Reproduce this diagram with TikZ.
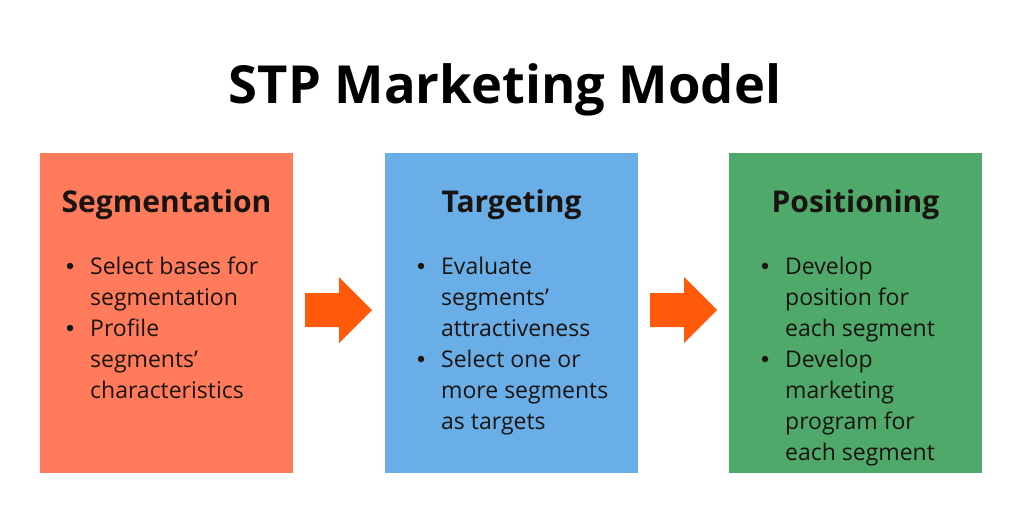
\documentclass[tikz,border=0pt]{standalone}
\usepackage{fontspec}
\setmainfont{Open Sans}
\usepackage{xcolor}
\usetikzlibrary{positioning}
\definecolor{segcol}{HTML}{FF7B5C}
\definecolor{tarcol}{HTML}{6AAEE8}
\definecolor{poscol}{HTML}{4EA96B}
\definecolor{arrcol}{HTML}{FF5A0A}
\definecolor{txtcol}{HTML}{1A1410}

\begin{document}
\begin{tikzpicture}[x=1pt, y=-1pt,
box/.style = {inner sep=0pt, outer sep=0pt, minimum width=253pt,
            minimum height=320pt, anchor=north west},
head/.style = {anchor=base, font=\fontsize{30}{34}\selectfont\bfseries, text=txtcol},
item/.style = {anchor=north west, align=left, inner sep=0pt,
            font=\fontsize{23}{31}\selectfont, text=txtcol},
dot/.style = {circle, fill=txtcol, minimum size=#1,
            inner sep=0pt, outer sep=0pt},
dot/.default = 6.5pt
                ]
    \useasboundingbox (0,0) rectangle (1024,512);
    \fill[white] (0,0) rectangle (1024,512);

    \node[anchor=base, font=\fontsize{52.5}{58}\selectfont\bfseries] (title) at (505,103) {STP Marketing Model};

    % the three boxes
    \foreach \x/\c/\t/\n in {40/segcol/Segmentation/seg, 385/tarcol/Targeting/tar, 729/poscol/Positioning/pos}{
        \node[box, fill=\c] (\n) at (\x,153) {};
        \node[head] (h\n) at (\x+126.5,212) {\t};
    }

    % bullet items (strut puts the first baseline 21.7pt under the top)
    \def\dx{40}
    \node[item] (seg1) at (\dx+50,252.3) {\strut Select bases for\\segmentation};
    \node[item] (seg2) at (\dx+50,314.3) {\strut Profile\\segments’\\characteristics};
    \def\dx{385}
    \node[item] (tar1) at (\dx+56,252.3) {\strut Evaluate\\segments’\\attractiveness};
    \node[item] (tar2) at (\dx+56,345.3) {\strut Select one or\\more segments\\as targets};
    \def\dx{729}
    \node[item] (pos1) at (\dx+56,252.3) {\strut Develop\\position for\\each segment};
    \node[item] (pos2) at (\dx+56,345.3) {\strut Develop\\marketing\\program for\\each segment};
    \foreach \e in {seg1, seg2, tar1, tar2, pos1, pos2}
        \node[dot] at ([xshift=-20pt, yshift=-13.7pt]\e.north west) {};

    % arrows between boxes
    \foreach \x in {305, 650}
        \fill[arrcol] (\x,293) -- (\x+34,293) -- (\x+34,277) -- (\x+67,310)
            -- (\x+34,343) -- (\x+34,327) -- (\x,327) -- cycle;
\end{tikzpicture}
\end{document}
